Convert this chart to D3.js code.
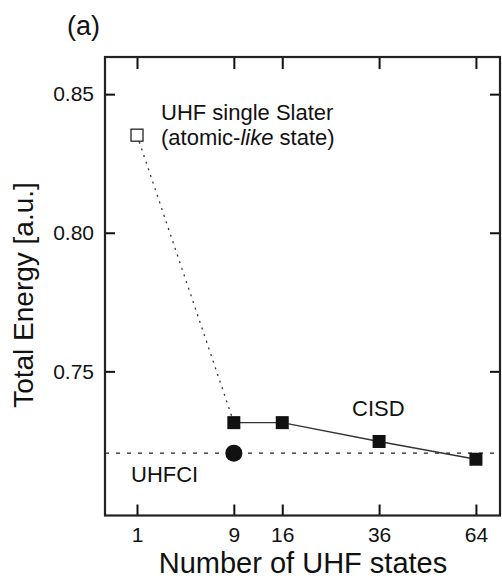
<!DOCTYPE html>
<html><head><meta charset="utf-8">
<script src="https://cdn.jsdelivr.net/npm/d3@7"></script>
<style>
html,body{margin:0;padding:0;background:#fff;}
text{font-family:"Liberation Sans",Arial,Helvetica,sans-serif;fill:#111;}
</style></head>
<body>
<svg id="chart" width="502" height="579"></svg>
<script>
// ---- data ----
const xTicks = [1, 9, 16, 36, 64];
const yTicks = [0.75, 0.80, 0.85];
const uhfSingleX = [1, 9];
const uhfSingleY = [0.8352, 0.7315];
const cisdX = [9, 16, 36, 64];
const cisdY = [0.7315, 0.7315, 0.7247, 0.7183];
const uhfciX = [9];
const uhfciY = [0.7205];
const uhfciLevel = 0.7205;

const svg = d3.select("#chart");
const L = 105, R = 500, T = 57, B = 515.5;

const x = d3.scaleSqrt().domain([0.115, 72.2]).range([L, R]);
const y = d3.scaleLinear().domain([0.6980, 0.8634]).range([B, T]);

// axes
const fmt = d3.format(".2f");
const gB = svg.append("g").attr("transform", `translate(0,${B})`)
  .call(d3.axisBottom(x).tickValues(xTicks).tickSizeInner(-11).tickSizeOuter(0).tickPadding(12).tickFormat(d3.format("d")));
const gT = svg.append("g").attr("transform", `translate(0,${T})`)
  .call(d3.axisTop(x).tickValues(xTicks).tickSizeInner(-12).tickSizeOuter(0).tickFormat(""));
const gL = svg.append("g").attr("transform", `translate(${L},0)`)
  .call(d3.axisLeft(y).tickValues(yTicks).tickSizeInner(-10).tickSizeOuter(0).tickPadding(11).tickFormat(fmt));
const gR = svg.append("g").attr("transform", `translate(${R},0)`)
  .call(d3.axisRight(y).tickValues(yTicks).tickSizeInner(-10).tickSizeOuter(0).tickFormat(""));
[gB, gT, gL, gR].forEach(g => {
  g.select(".domain").remove();
  g.selectAll(".tick line").attr("stroke", "#111").attr("stroke-width", 2);
  g.selectAll(".tick text").attr("font-size", 21).attr("fill", "#111")
    .attr("font-family", "'Liberation Sans', Arial, sans-serif");
});

// frame
svg.append("rect").attr("x", L).attr("y", T).attr("width", R - L).attr("height", B - T)
  .attr("fill", "none").attr("stroke", "#222").attr("stroke-width", 2.2);

// UHFCI dashed horizontal line
svg.append("line").attr("x1", L).attr("x2", R).attr("y1", y(uhfciLevel)).attr("y2", y(uhfciLevel))
  .attr("stroke", "#222").attr("stroke-width", 1.4).attr("stroke-dasharray", "4,7");

// UHF single dotted line
const line = d3.line().x(d => x(d[0])).y(d => y(d[1]));
svg.append("path").attr("d", line(d3.zip(uhfSingleX, uhfSingleY)))
  .attr("fill", "none").attr("stroke", "#333").attr("stroke-width", 1.3).attr("stroke-dasharray", "2,5");

// CISD solid line
svg.append("path").attr("d", line(d3.zip(cisdX, cisdY)))
  .attr("fill", "none").attr("stroke", "#333").attr("stroke-width", 1.4);

// markers
const s = 13;
svg.append("rect").attr("x", x(uhfSingleX[0]) - 6).attr("y", y(uhfSingleY[0]) - 6)
  .attr("width", 12).attr("height", 12).attr("fill", "#fff").attr("stroke", "#222").attr("stroke-width", 1.3);
svg.selectAll("rect.cisd").data(d3.zip(cisdX, cisdY)).enter().append("rect").attr("class", "cisd")
  .attr("x", d => x(d[0]) - s / 2).attr("y", d => y(d[1]) - s / 2)
  .attr("width", s).attr("height", s).attr("fill", "#111");
svg.selectAll("circle.uhfci").data(d3.zip(uhfciX, uhfciY)).enter().append("circle").attr("class", "uhfci")
  .attr("cx", d => x(d[0])).attr("cy", d => y(d[1])).attr("r", 8.5).attr("fill", "#111");

// annotations
svg.append("text").attr("x", 161).attr("y", 120).attr("font-size", 22).text("UHF single Slater");
const t2 = svg.append("text").attr("x", 161).attr("y", 145).attr("font-size", 22);
t2.append("tspan").text("(atomic-");
t2.append("tspan").attr("font-style", "italic").text("like");
t2.append("tspan").text(" state)");
svg.append("text").attr("x", 352).attr("y", 416).attr("font-size", 22).text("CISD");
svg.append("text").attr("x", 131).attr("y", 482).attr("font-size", 22).text("UHFCI");

// panel label
svg.append("text").attr("x", 67).attr("y", 35).attr("font-size", 27).text("(a)");

// axis titles
svg.append("text").attr("x", 303).attr("y", 573).attr("text-anchor", "middle").attr("font-size", 29)
  .text("Number of UHF states");
svg.append("text").attr("transform", "translate(33,295) rotate(-90)").attr("text-anchor", "middle")
  .attr("font-size", 28).text("Total Energy [a.u.]");
</script>
</body></html>
